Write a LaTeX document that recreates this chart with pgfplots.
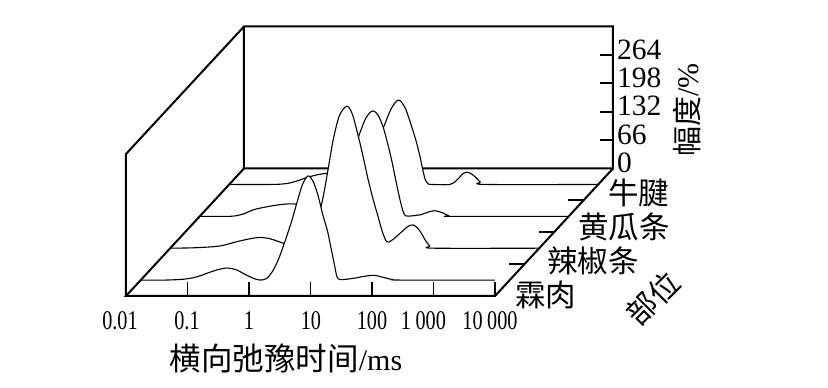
\documentclass[border=0pt]{standalone}
\usepackage{fontspec}
\setmainfont{Liberation Serif}
\newfontfamily\cjk{Noto Sans CJK SC}
\newfontfamily\narrow[FakeStretch=0.75]{Liberation Serif}
\usepackage{pgfplots}
\usepackage{pgfplotstable}
\pgfplotsset{compat=1.18}
% columns: t = transverse relaxation time (ms), a = amplitude (%)
\pgfplotstableread{
t a
0.01 0
0.0251 0
0.0501 2
0.0794 7
0.126 17
0.178 24
0.251 28
0.355 24
0.501 13
0.708 3
0.891 0
1.122 4
1.413 22
1.778 52
2.239 92
2.818 135
3.548 185
4.266 222
5.248 242
6.310 230
7.586 198
9.120 152
10.96 112
12.59 70
14.13 35
15.49 8
17.38 1
22.39 2
31.62 5
44.67 9
63.10 11
89.13 6
125.9 1
177.8 0
5754 0
}\linrou
\pgfplotstableread{
t a
0.01 0
0.0251 1
0.0631 5
0.120 15
0.200 22
0.288 25
0.417 22
0.562 16
0.794 9
1.122 7
1.585 18
1.995 38
2.512 72
2.951 108
3.311 145
3.715 186
4.467 252
5.623 308
7.413 330
9.120 312
11.48 259
13.80 210
16.60 158
19.95 113
23.99 73
28.18 38
33.11 15
39.81 18
54.95 35
72.44 50
89.13 54
112.2 42
141.3 18
166.0 5
190.5 0
10000 0
}\lajiao
\pgfplotstableread{
t a
0.01 0
0.0316 0
0.0501 5
0.0741 15
0.112 21
0.178 26
0.282 29
0.398 28
0.631 26
1 24
1.413 35
1.995 65
2.818 125
3.802 184
5.012 228
6.457 245
7.943 235
9.66 206
11.22 172
13.18 131
15.49 82
18.20 36
20.42 10
22.39 1
28.18 1
39.81 4
52.48 10
66.07 13
89.13 8
112.2 1
125.9 0
10000 0
}\huanggua
\pgfplotstableread{
t a
0.01 0
0.0501 0
0.0851 2
0.126 8
0.182 16
0.282 23
0.398 26
0.631 28
1 33
1.585 55
2.239 88
3.199 132
4.266 175
5.623 196
7.244 178
9.268 134
10.96 100
12.59 66
14.13 32
15.49 10
17.38 1
19.50 0
38.90 0
50.12 10
64.57 26
77.62 28
95.50 20
120.2 6
144.5 0
10000 0
}\niujian
\begin{document}
\begin{tikzpicture}
\begin{axis}[
  hide axis, clip=false,
  xmode=log,
  x={(26.709pt,0pt)}, y={(29.5pt,31.875pt)}, z={(0pt,0.4303pt)},
  xmin=0.01, xmax=10000, ymin=0, ymax=4, zmin=0, zmax=330,
  enlargelimits=false,
]
% picture frame (828 x 388)
\path (axis cs:0.01,0,0) ++(-126pt,-92pt) rectangle ++(828pt,388pt);
% back walls
\draw[line width=2pt, line join=miter]
  (axis cs:0.01,0,0) -- (axis cs:0.01,0,330) -- (axis cs:0.01,4,330)
  -- (axis cs:10000,4,330) -- (axis cs:10000,4,0) -- (axis cs:0.01,4,0)
  -- (axis cs:0.01,4,330);
% z ticks
\pgfplotsinvokeforeach{66,132,198,264}{
  \draw[line width=1.8pt] (axis cs:10000,4,#1) -- ++(-13pt,0pt);
}
% series, back to front
\addplot3[smooth, fill=white, draw=black, line width=1.1pt] table[x=t, y expr=3.5, z=a] {\niujian};
\addplot3[smooth, fill=white, draw=black, line width=1.1pt] table[x=t, y expr=2.5, z=a] {\huanggua};
\addplot3[smooth, fill=white, draw=black, line width=1.1pt] table[x=t, y expr=1.5, z=a] {\lajiao};
\addplot3[smooth, fill=white, draw=black, line width=1.1pt] table[x=t, y expr=0.5, z=a] {\linrou};
% floor front edges
\draw[line width=2pt, line join=miter]
  (axis cs:0.01,4,0) -- (axis cs:0.01,0,0) -- (axis cs:10000,0,0) -- (axis cs:10000,4,0);
% x ticks
\pgfplotsinvokeforeach{0.1,1,10,100,1000,10000}{
  \draw[line width=1.8pt] (axis cs:#1,0,0) -- ++(0pt,13.5pt);
}
% depth ticks
\pgfplotsinvokeforeach{1,2,3}{
  \draw[line width=1.8pt] (axis cs:10000,#1,0) -- ++(-15pt,0pt);
}
% x tick labels
\node[font=\narrow\fontsize{27}{27}\selectfont, inner sep=0pt, anchor=center, xshift=-6pt, yshift=-25pt] at (axis cs:0.01,0,0) {0.01};
\node[font=\narrow\fontsize{27}{27}\selectfont, inner sep=0pt, anchor=center, xshift=61pt, yshift=-25pt] at (axis cs:0.01,0,0) {0.1};
\node[font=\narrow\fontsize{27}{27}\selectfont, inner sep=0pt, anchor=center, xshift=123pt, yshift=-25pt] at (axis cs:0.01,0,0) {1};
\node[font=\narrow\fontsize{27}{27}\selectfont, inner sep=0pt, anchor=center, xshift=185pt, yshift=-25pt] at (axis cs:0.01,0,0) {10};
\node[font=\narrow\fontsize{27}{27}\selectfont, inner sep=0pt, anchor=center, xshift=246pt, yshift=-25pt] at (axis cs:0.01,0,0) {100};
\node[font=\narrow\fontsize{27}{27}\selectfont, inner sep=0pt, anchor=center, xshift=297.5pt, yshift=-25pt] at (axis cs:0.01,0,0) {1\,000};
\node[font=\narrow\fontsize{27}{27}\selectfont, inner sep=0pt, anchor=center, xshift=364pt, yshift=-25pt] at (axis cs:0.01,0,0) {10\,000};
% z tick labels
\pgfplotsinvokeforeach{0,66,132,198,264}{
  \node[font=\fontsize{29.5}{29.5}\selectfont, inner sep=0pt, anchor=west, xshift=4pt, yshift=5.5pt] at (axis cs:10000,4,#1) {#1};
}
% category labels
\node[font=\cjk\fontsize{30.5}{30.5}\selectfont, inner sep=0pt, anchor=west, xshift=389pt, yshift=1pt] at (axis cs:0.01,0,0) {霖肉};
\node[font=\cjk\fontsize{30.5}{30.5}\selectfont, inner sep=0pt, anchor=west, xshift=421pt, yshift=35pt] at (axis cs:0.01,0,0) {辣椒条};
\node[font=\cjk\fontsize{30.5}{30.5}\selectfont, inner sep=0pt, anchor=west, xshift=452pt, yshift=69pt] at (axis cs:0.01,0,0) {黄瓜条};
\node[font=\cjk\fontsize{30.5}{30.5}\selectfont, inner sep=0pt, anchor=west, xshift=482pt, yshift=103pt] at (axis cs:0.01,0,0) {牛腱};
% axis titles
\node[inner sep=0pt, anchor=center, xshift=160pt, yshift=-62pt] at (axis cs:0.01,0,0)
  {{\cjk\fontsize{31.5}{31.5}\selectfont 横向弛豫时间}{\fontsize{30}{30}\selectfont /ms}};
\node[inner sep=0pt, anchor=center, xshift=561pt, yshift=186pt, rotate=90] at (axis cs:0.01,0,0)
  {{\cjk\fontsize{30}{30}\selectfont 幅度}{\fontsize{30}{30}\selectfont /\%}};
\node[inner sep=0pt, anchor=center, xshift=527pt, yshift=-2pt, rotate=45] at (axis cs:0.01,0,0)
  {{\cjk\fontsize{30}{30}\selectfont 部位}};
\end{axis}
\end{tikzpicture}
\end{document}
